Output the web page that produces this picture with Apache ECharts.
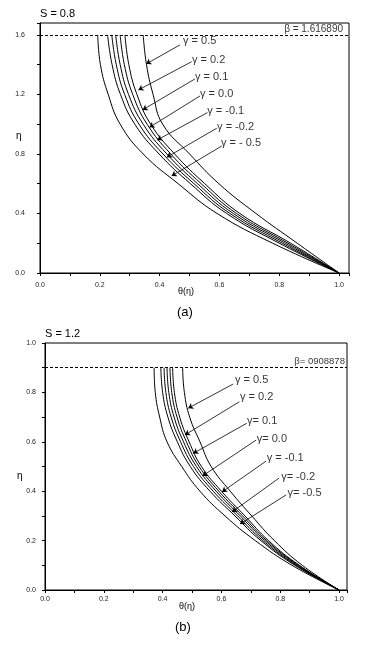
<!DOCTYPE html>
<html>
<head>
<meta charset="utf-8">
<script src="https://cdn.jsdelivr.net/npm/echarts@6/dist/echarts.min.js"></script>
<style>
  html, body { margin: 0; padding: 0; background: #fff; }
  #chart { width: 371px; height: 646px; }
</style>
</head>
<body>
<div id="chart"></div>
<script>
// gamma values, same order in both panels
var gammaLabelsA = ['γ = 0.5', 'γ = 0.2', 'γ = 0.1', 'γ = 0.0', 'γ = -0.1', 'γ = -0.2', 'γ = - 0.5'];
var gammaLabelsB = ['γ = 0.5', 'γ = 0.2', 'γ= 0.1', 'γ= 0.0', 'γ = -0.1', 'γ= -0.2', 'γ= -0.5'];

// panel (a), S = 0.8 : theta(eta)
var etaA        = [1.6,   1.4,   1.2,   1.0,   0.8,   0.6,   0.4,   0.2,   0.0];
var thetaA_g05  = [0.345, 0.356, 0.378, 0.410, 0.500, 0.598, 0.722, 0.860, 1.0];
var thetaA_g02  = [0.284, 0.297, 0.324, 0.370, 0.450, 0.551, 0.668, 0.838, 1.0];
var thetaA_g01  = [0.268, 0.282, 0.310, 0.358, 0.437, 0.539, 0.657, 0.829, 1.0];
var thetaA_g00  = [0.253, 0.268, 0.296, 0.345, 0.424, 0.527, 0.646, 0.820, 1.0];
var thetaA_gm01 = [0.240, 0.255, 0.283, 0.331, 0.411, 0.515, 0.635, 0.810, 1.0];
var thetaA_gm02 = [0.226, 0.241, 0.269, 0.317, 0.398, 0.503, 0.624, 0.800, 1.0];
var thetaA_gm05 = [0.193, 0.202, 0.228, 0.268, 0.345, 0.462, 0.592, 0.778, 1.0];
var betaA = 1.6;

// panel (b), S = 1.2
var etaB        = [0.9,   0.8,   0.7,   0.6,   0.5,   0.4,   0.3,   0.2,   0.1,   0.0];
var thetaB_g05  = [0.468, 0.474, 0.492, 0.527, 0.565, 0.630, 0.703, 0.780, 0.875, 1.0];
var thetaB_g02  = [0.434, 0.440, 0.458, 0.490, 0.532, 0.600, 0.680, 0.760, 0.865, 1.0];
var thetaB_g01  = [0.425, 0.431, 0.449, 0.481, 0.524, 0.591, 0.672, 0.754, 0.862, 1.0];
var thetaB_g00  = [0.415, 0.421, 0.439, 0.471, 0.515, 0.582, 0.664, 0.748, 0.858, 1.0];
var thetaB_gm01 = [0.405, 0.411, 0.429, 0.461, 0.505, 0.572, 0.655, 0.741, 0.854, 1.0];
var thetaB_gm02 = [0.394, 0.400, 0.418, 0.450, 0.494, 0.561, 0.646, 0.734, 0.850, 1.0];
var thetaB_gm05 = [0.371, 0.375, 0.390, 0.415, 0.465, 0.527, 0.612, 0.715, 0.840, 1.0];
var betaB = 0.9;

// label anchors (theta, eta) and arrows [fromTheta, fromEta, toTheta, toEta]
var labelPosA = [[0.478, 1.562], [0.508, 1.430], [0.518, 1.316], [0.535, 1.203], [0.559, 1.091], [0.592, 0.984], [0.605, 0.876]];
var arrowsA = [
    [0.468, 1.533, 0.355, 1.405], [0.507, 1.420, 0.329, 1.230], [0.518, 1.304, 0.343, 1.096],
    [0.535, 1.190, 0.366, 0.979], [0.560, 1.078, 0.392, 0.894], [0.591, 0.973, 0.424, 0.778],
    [0.608, 0.854, 0.440, 0.652]
];
var labelPosB = [[0.646, 0.850], [0.663, 0.780], [0.687, 0.684], [0.720, 0.611], [0.754, 0.533], [0.803, 0.459], [0.825, 0.393]];
var arrowsB = [
    [0.640, 0.834, 0.487, 0.736], [0.661, 0.762, 0.476, 0.628], [0.686, 0.675, 0.504, 0.553],
    [0.718, 0.607, 0.536, 0.462], [0.752, 0.522, 0.602, 0.397], [0.796, 0.453, 0.636, 0.316],
    [0.820, 0.385, 0.663, 0.267]
];

var FONT = 'Liberation Sans, Arial, sans-serif';
var chart = echarts.init(document.getElementById('chart'), null, {renderer: 'canvas'});

function tenthLabel(step, top) {
    return function (v) {
        var k = Math.round(v * 10);
        if (Math.abs(v * 10 - k) > 1e-6 || k % step !== 0 || k > top) return '';
        return (k / 10).toFixed(1);
    };
}

function curve(thetas, etas, idx) {
    return {
        type: 'line', xAxisIndex: idx, yAxisIndex: idx,
        data: thetas.map(function (t, i) { return [t, etas[i]]; }),
        symbol: 'none', smooth: 0.45, silent: true,
        lineStyle: {color: '#000', width: 1}
    };
}

function dashed(series, beta) {
    series.markLine = {
        silent: true, symbol: 'none', animation: false,
        label: {show: false},
        lineStyle: {color: '#000', width: 1, type: [3, 2]},
        data: [{yAxis: beta}]
    };
    return series;
}

function notes(labels, pos, arrows, betaText, betaPos, betaSize, idx) {
    var pts = labels.map(function (l, i) { return {name: l, value: pos[i]}; });
    return {
        type: 'scatter', xAxisIndex: idx, yAxisIndex: idx, silent: true,
        symbolSize: 0,
        data: pts.concat([{name: betaText, value: betaPos, label: {position: 'left', distance: 0, fontSize: betaSize}}]),
        label: {show: true, position: 'right', distance: 0, formatter: '{b}',
            color: '#000', fontSize: 11, fontFamily: FONT},
        markLine: {
            silent: true, animation: false,
            symbol: ['none', 'arrow'], symbolSize: 5,
            label: {show: false},
            lineStyle: {color: '#000', width: 0.8, type: 'solid'},
            data: arrows.map(function (a) { return [{coord: [a[0], a[1]]}, {coord: [a[2], a[3]]}]; })
        }
    };
}

function xAx(idx, margin) {
    return {
        gridIndex: idx, type: 'value', min: 0, max: idx === 0 ? 1.033 : 1.027, interval: 0.1,
        axisLine: {lineStyle: {color: '#000', width: 1}},
        axisTick: {length: 3, lineStyle: {color: '#000'}},
        axisLabel: {fontSize: 7, color: '#222', fontFamily: FONT, margin: margin, formatter: tenthLabel(2, 10)},
        splitLine: {show: false}
    };
}

function yAx(idx, max, step, margin) {
    return {
        gridIndex: idx, type: 'value', min: 0, max: max, interval: 0.2 / (idx === 0 ? 1 : 2),
        axisLine: {lineStyle: {color: '#000', width: 1}},
        axisTick: {length: 3, lineStyle: {color: '#000'}},
        axisLabel: {fontSize: 7, color: '#222', fontFamily: FONT, margin: margin, formatter: tenthLabel(step, 16)},
        splitLine: {show: false}
    };
}

function ttl(text, left, top, size) {
    return {text: text, left: left, top: top, padding: 0,
        textStyle: {fontSize: size, fontWeight: 'normal', color: '#000', fontFamily: FONT}};
}

var option = {
    backgroundColor: '#fff',
    animation: false,
    title: [
        ttl('S = 0.8', 40, 8, 11),
        ttl('θ(η)', 178, 287, 9),
        ttl('η', 16, 131, 10),
        ttl('(a)', 177, 306, 13),
        ttl('S = 1.2', 45, 328, 11),
        ttl('θ(η)', 179, 602, 9),
        ttl('η', 17, 471, 10),
        ttl('(b)', 175, 621, 13)
    ],
    grid: [
        {left: 40, top: 23, width: 309, height: 250, show: true, borderColor: '#000', borderWidth: 1},
        {left: 45, top: 343, width: 302, height: 247, show: true, borderColor: '#000', borderWidth: 1}
    ],
    xAxis: [xAx(0, 9), xAx(1, 6)],
    yAxis: [yAx(0, 1.68, 4, 15), yAx(1, 1.0, 2, 9)],
    series: [
        dashed(curve(thetaA_g05, etaA, 0), betaA),
        curve(thetaA_g02, etaA, 0),
        curve(thetaA_g01, etaA, 0),
        curve(thetaA_g00, etaA, 0),
        curve(thetaA_gm01, etaA, 0),
        curve(thetaA_gm02, etaA, 0),
        curve(thetaA_gm05, etaA, 0),
        notes(gammaLabelsA, labelPosA, arrowsA, 'β = 1.616890', [1.013, 1.64], 10, 0),
        dashed(curve(thetaB_g05, etaB, 1), betaB),
        curve(thetaB_g02, etaB, 1),
        curve(thetaB_g01, etaB, 1),
        curve(thetaB_g00, etaB, 1),
        curve(thetaB_gm01, etaB, 1),
        curve(thetaB_gm02, etaB, 1),
        curve(thetaB_gm05, etaB, 1),
        notes(gammaLabelsB, labelPosB, arrowsB, 'β= 0908878', [1.020, 0.924], 9.5, 1)
    ]
};
chart.setOption(option);
window.addEventListener('resize', chart.resize);
</script>
</body>
</html>
